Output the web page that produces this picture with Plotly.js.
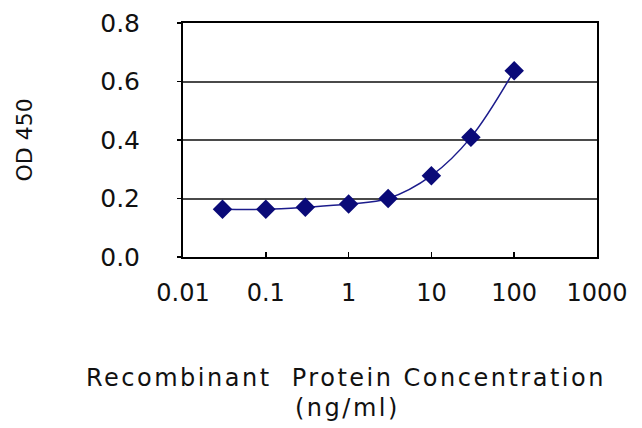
<!DOCTYPE html>
<html>
<head>
<meta charset="utf-8">
<script src="https://cdn.plot.ly/plotly-3.0.1.min.js"></script>
<style>
html,body{margin:0;padding:0;background:#fff;}
#chart{width:642px;height:428px;}
.annotation-text{letter-spacing:2.5px;}
</style>
</head>
<body>
<div id="chart"></div>
<script>
// Data
const concentration = [0.03, 0.1, 0.3, 1, 3, 10, 30, 100];
const od450 = [0.163, 0.163, 0.170, 0.181, 0.200, 0.278, 0.409, 0.637];
const xTickVals = [0.01, 0.1, 1, 10, 100, 1000];
const xTickText = ['0.01', '0.1', '1', '10', '100', '1000'];
const yTickVals = [0, 0.2, 0.4, 0.6, 0.8];
const yTickText = ['0.0', '0.2', '0.4', '0.6', '0.8'];
const xTitleLines = ['Recombinant  Protein Concentration', '(ng/ml)'];
const yTitle = 'OD 450';

const font = 'DejaVu Sans, Verdana, sans-serif';
const textColor = '#111';

const trace = {
  x: concentration,
  y: od450,
  type: 'scatter',
  mode: 'lines+markers',
  line: {color: '#1c1c8c', width: 1.5, shape: 'spline', smoothing: 1},
  marker: {symbol: 'diamond', size: 15, color: '#0a0a78', line: {width: 0}},
  hoverinfo: 'x+y'
};

const layout = {
  width: 642,
  height: 428,
  margin: {l: 183, r: 45, t: 23, b: 171},
  paper_bgcolor: '#fff',
  plot_bgcolor: '#fff',
  showlegend: false,
  font: {family: font, color: textColor, size: 24},
  xaxis: {
    type: 'log',
    range: [-2, 3],
    tickvals: xTickVals,
    ticktext: xTickText,
    ticks: 'inside',
    ticklen: 5,
    tickwidth: 1.5,
    tickcolor: '#000',
    ticklabelstandoff: 13,
    showline: true,
    linecolor: '#000',
    linewidth: 2,
    mirror: true,
    showgrid: false,
    zeroline: false,
    tickfont: {family: font, size: 24, color: textColor},
    automargin: false
  },
  yaxis: {
    range: [0, 0.8],
    tickvals: yTickVals,
    ticktext: yTickText,
    ticks: 'outside',
    ticklen: 4,
    tickwidth: 1.5,
    tickcolor: '#000',
    ticklabelstandoff: 32,
    showline: true,
    linecolor: '#000',
    linewidth: 2,
    mirror: true,
    showgrid: true,
    gridcolor: '#4a4a4a',
    gridwidth: 2,
    zeroline: false,
    tickfont: {family: font, size: 25, color: textColor},
    automargin: false,
    title: {
      text: yTitle,
      font: {family: font, size: 22, color: textColor},
      standoff: 62
    }
  },
  annotations: [
    {
      text: xTitleLines[0], xref: 'paper', yref: 'paper',
      x: 0.394, y: -0.515, xanchor: 'center', yanchor: 'middle',
      showarrow: false, font: {family: font, size: 24, color: textColor}
    },
    {
      text: xTitleLines[1], xref: 'paper', yref: 'paper',
      x: 0.397, y: -0.645, xanchor: 'center', yanchor: 'middle',
      showarrow: false, font: {family: font, size: 24, color: textColor}
    }
  ]
};

Plotly.newPlot('chart', [trace], layout, {displayModeBar: false, staticPlot: true});
</script>
</body>
</html>
